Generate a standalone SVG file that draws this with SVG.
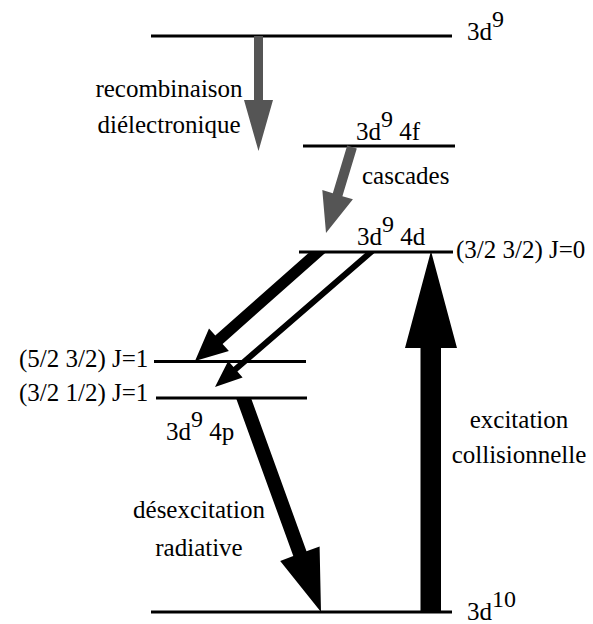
<svg xmlns="http://www.w3.org/2000/svg" width="593" height="624" viewBox="0 0 593 624" font-family="'Liberation Serif', 'Times New Roman', 'DejaVu Serif', serif">
<style>
text{font-family:"Liberation Serif","Times New Roman","DejaVu Serif",serif;font-size:25px;fill:#000}
tspan.sup{font-size:24px}
.lvl{stroke:#000;stroke-width:3.2;fill:none}
.gray{fill:#555}
.blk{fill:#000}
</style>
<rect width="593" height="624" fill="#fff"/>
<g id="level-3d9">
<line class="lvl" x1="151" y1="36" x2="452" y2="36"/>
<text x="467" y="40">3d<tspan class="sup" font-size="24" dy="-13">9</tspan></text>
</g>
<g id="level-3d9-4f">
<line class="lvl" x1="303" y1="146" x2="455" y2="146"/>
<text x="356" y="140">3d<tspan class="sup" font-size="24" dy="-13">9</tspan><tspan dy="13"> 4f</tspan></text>
</g>
<g id="level-3d9-4d">
<line class="lvl" x1="299" y1="252" x2="453" y2="252"/>
<text x="357" y="245">3d<tspan class="sup" font-size="24" dy="-13">9</tspan><tspan dy="13"> 4d</tspan></text>
<text x="456" y="258">(3/2 3/2) J=0</text>
</g>
<g id="level-52-32">
<line class="lvl" x1="154" y1="361.5" x2="306" y2="361.5"/>
<text x="19" y="367">(5/2 3/2) J=1</text>
</g>
<g id="level-32-12">
<line class="lvl" x1="156" y1="398" x2="307" y2="398"/>
<text x="19" y="401">(3/2 1/2) J=1</text>
<text x="166" y="440">3d<tspan class="sup" font-size="24" dy="-13">9</tspan><tspan dy="13"> 4p</tspan></text>
</g>
<g id="level-3d10">
<line class="lvl" x1="151" y1="612" x2="452" y2="612"/>
<text x="467" y="620">3d<tspan class="sup" font-size="24" dy="-13">10</tspan></text>
</g>
<g id="connectors">
<polygon class="gray" points="254,36 254,100 244,100 258.5,151 273,100 263,100 263,36"/>
<polygon class="gray" points="347.2,145.6 332.8,193.3 322.3,190.1 326,233 352.9,199.3 342.4,196.2 356.8,148.4"/>
<polygon class="blk" points="309.7,252 215.3,335.6 209,328.5 195,361 228.9,351 222.6,343.9 326.3,252"/>
<polygon class="blk" points="366.4,252 233.5,367.1 228.2,361 215,387 242.6,377.6 237.4,371.6 375.6,252"/>
<polygon class="blk" points="420.5,612 420.5,348 405,348 431,251 457,348 441,348 441,612"/>
<polygon class="blk" points="236,398 293.3,556.1 280.2,560.9 321,612 319.6,546.6 306.5,551.3 251,398"/>
</g>
<g id="labels">
<text x="169" y="97" text-anchor="middle">recombinaison</text>
<text x="169" y="133" text-anchor="middle">diélectronique</text>
<text x="362" y="184">cascades</text>
<text x="519" y="428" text-anchor="middle">excitation</text>
<text x="519" y="463" text-anchor="middle">collisionnelle</text>
<text x="199" y="518" text-anchor="middle">désexcitation</text>
<text x="199" y="556" text-anchor="middle">radiative</text>
</g>
</svg>
